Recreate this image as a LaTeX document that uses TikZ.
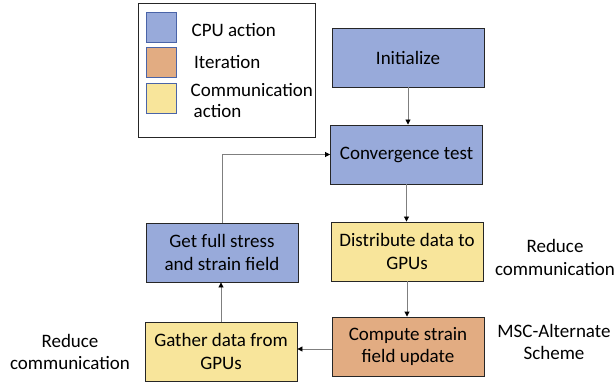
\documentclass[tikz,border=0pt]{standalone}
\usepackage{fontspec}
\setmainfont{Carlito}
\usetikzlibrary{arrows.meta,positioning}
\definecolor{cpublue}{HTML}{98AADA}
\definecolor{iterorange}{HTML}{E2AC82}
\definecolor{commyellow}{HTML}{F8E59B}
\definecolor{legborder}{HTML}{4A64A8}
\definecolor{linegray}{HTML}{7F7F7F}
\tikzset{
  stepbox/.style={draw=black!85, line width=0.9pt, minimum width=152pt, minimum height=59pt, align=center, inner sep=2pt, font=\fontsize{19}{22.5}\selectfont},
  cpu/.style={stepbox, fill=cpublue},
  iter/.style={stepbox, fill=iterorange},
  comm/.style={stepbox, fill=commyellow},
  legsq/.style={draw=legborder, line width=0.9pt, minimum width=30pt, minimum height=30pt, inner sep=0pt},
  lbl/.style={align=center, font=\fontsize{19}{22.5}\selectfont, inner sep=0pt},
  legtxt/.style={anchor=west, font=\fontsize{19}{22.5}\selectfont, inner sep=0pt},
  flow/.style={draw=linegray, line width=0.9pt, -{Triangle[length=5pt,width=5pt,color=black]}}
}
\begin{document}
\begin{tikzpicture}[x=1pt,y=1pt]
\useasboundingbox (0,0) rectangle (616,-390);
% legend
\node[draw=black!85, line width=0.9pt, minimum width=177pt, minimum height=134pt, inner sep=0pt] (legend) at (226.5,-70) {};
\node[legsq, fill=cpublue] (lcpu) at (161.7,-27.3) {};
\node[legsq, fill=iterorange] (liter) at (161.7,-62.3) {};
\node[legsq, fill=commyellow] (lcomm) at (161.7,-98) {};
\node[legtxt] (tcpu) at (191.5,-30) {CPU action};
\node[legtxt] (titer) at (194,-62.5) {Iteration};
\node[legtxt] (tcomm1) at (190.5,-90.5) {Communication};
\node[legtxt] (tcomm2) at (193.5,-111) {action};
% process boxes
\node[cpu] (init) at (408,-57.5) {Initialize};
\node[cpu] (conv) at (406.5,-154.5) {Convergence test};
\node[comm] (dist) at (407,-251.5) {Distribute data to\\GPUs};
\node[iter] (comp) at (408,-346.5) {Compute strain\\field update};
\node[comm] (gath) at (221,-351.5) {Gather data from\\GPUs};
\node[cpu] (full) at (222,-252.5) {Get full stress\\and strain field};
% side labels
\node[lbl] (rc1) at (555,-257.5) {Reduce\\communication};
\node[lbl] (msc) at (554,-342) {MSC-Alternate\\Scheme};
\node[lbl] (rc2) at (70,-352) {Reduce\\communication};
% connectors
\draw[flow] (init.south) -- (init.south |- conv.north);
\draw[flow] (conv.south) -- (conv.south |- dist.north);
\draw[flow] (dist.south) -- (dist.south |- comp.north);
\coordinate (cg) at (comp.west |- 0,-349);
\draw[flow] (cg) -- (cg -| gath.east);
\draw[flow] (gath.north) -- (gath.north |- full.south);
\draw[flow] (full.north) |- (conv.west);
\end{tikzpicture}
\end{document}
